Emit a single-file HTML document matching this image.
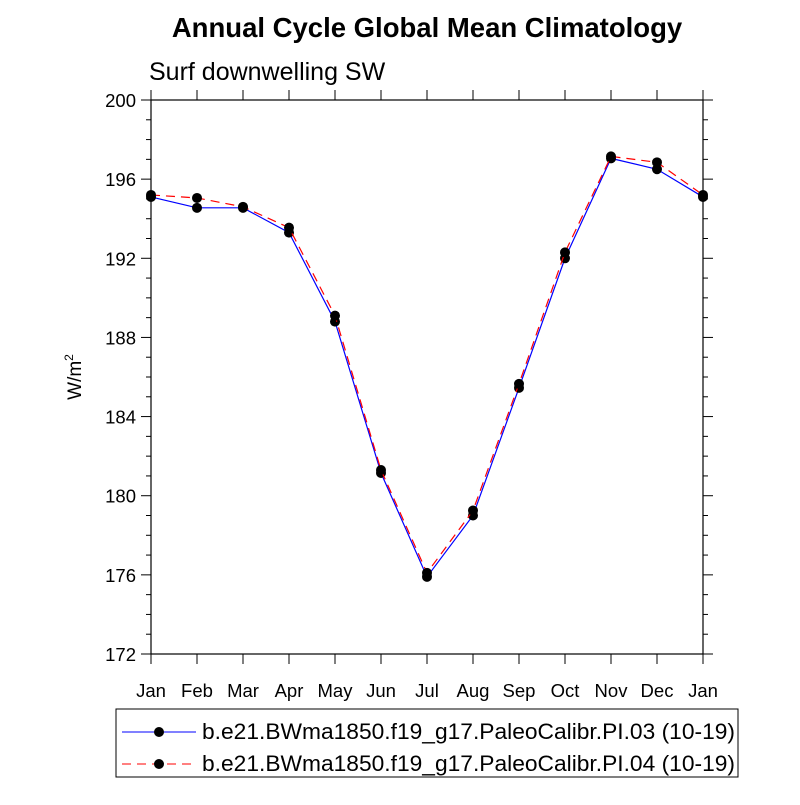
<!DOCTYPE html>
<html><head><meta charset="utf-8"><style>
body{margin:0;background:#fff;font-family:"Liberation Sans",sans-serif}
svg text{font-family:"Liberation Sans",sans-serif}
</style></head><body>
<svg width="800" height="800" id="chart">
<text x="427" y="37" text-anchor="middle" font-size="27.5" font-weight="bold">Annual Cycle Global Mean Climatology</text>
<text x="149" y="80" font-size="25">Surf downwelling SW</text>
<text transform="translate(81,377) rotate(-90)" text-anchor="middle" font-size="19">W/m<tspan dy="-8" font-size="12">2</tspan></text>
<g id="axes"></g><g id="series"></g>
<rect x="116" y="709" width="622" height="68" fill="none" stroke="#000" stroke-width="1"/>
<g>
<line x1="122" y1="732" x2="196" y2="732" stroke="blue" stroke-width="1"/><circle cx="159" cy="732" r="5"/>
<text x="202" y="739" font-size="22.5" textLength="533" lengthAdjust="spacingAndGlyphs">b.e21.BWma1850.f19_g17.PaleoCalibr.PI.03 (10-19)</text></g>
<g>
<line x1="122" y1="764" x2="196" y2="764" stroke="red" stroke-width="1" stroke-dasharray="9,6"/><circle cx="159" cy="764" r="5"/>
<text x="202" y="771" font-size="22.5" textLength="533" lengthAdjust="spacingAndGlyphs">b.e21.BWma1850.f19_g17.PaleoCalibr.PI.04 (10-19)</text></g>
</svg>
<script>
const months=["Jan","Feb","Mar","Apr","May","Jun","Jul","Aug","Sep","Oct","Nov","Dec","Jan"];
const pi03=[195.1,194.55,194.55,193.3,188.8,181.15,175.9,179.0,185.45,192.0,197.05,196.5,195.1];
const pi04=[195.2,195.05,194.6,193.55,189.1,181.3,176.1,179.25,185.65,192.3,197.15,196.85,195.2];
const yTicks=[172,176,180,184,188,192,196,200];
const X0=151,X1=703,Y0=654,Y1=100,ymin=172,ymax=200;
const xs=i=>X0+i*(X1-X0)/(months.length-1);
const ys=v=>Y0-(v-ymin)/(ymax-ymin)*(Y0-Y1);
const NS="http://www.w3.org/2000/svg";
const ax=document.getElementById('axes'),sg=document.getElementById('series');
function mk(t,a,p){const e=document.createElementNS(NS,t);for(const k in a)e.setAttribute(k,a[k]);p.appendChild(e);return e;}
const fr=mk('rect',{x:X0,y:Y1,width:X1-X0,height:Y0-Y1,fill:'none',stroke:'#000','stroke-width':1.2},ax);


for(let v=ymin;v<=ymax;v+=1){const y=ys(v);const maj=(v-ymin)%4===0;const L=maj?10:5;
mk('line',{x1:X0,y1:y,x2:X0-L,y2:y,stroke:'#000'},ax);mk('line',{x1:X1,y1:y,x2:X1+L,y2:y,stroke:'#000'},ax);}
yTicks.forEach(v=>{const t=mk('text',{x:X0-15,y:ys(v)+7,'text-anchor':'end','font-size':18.5},ax);t.textContent=v;

});
months.forEach((m,i)=>{const x=xs(i);mk('line',{x1:x,y1:Y0,x2:x,y2:Y0+10,stroke:'#000'},ax);mk('line',{x1:x,y1:Y1,x2:x,y2:Y1-10,stroke:'#000'},ax);
const t=mk('text',{x:x,y:Y0+43,'text-anchor':'middle','font-size':18.5},ax);t.textContent=m;

});
function draw(d,col,dash,name){const p=mk('polyline',{points:d.map((v,i)=>xs(i)+','+ys(v)).join(' '),fill:'none',stroke:col,'stroke-width':1.2,'stroke-dasharray':dash},sg);


d.forEach((v,i)=>{const c=mk('circle',{cx:xs(i),cy:ys(v),r:5,fill:'#000'},sg);

});}
draw(pi03,'blue','none','pi03');
draw(pi04,'red','9,6','pi04');
</script>
</body></html>
